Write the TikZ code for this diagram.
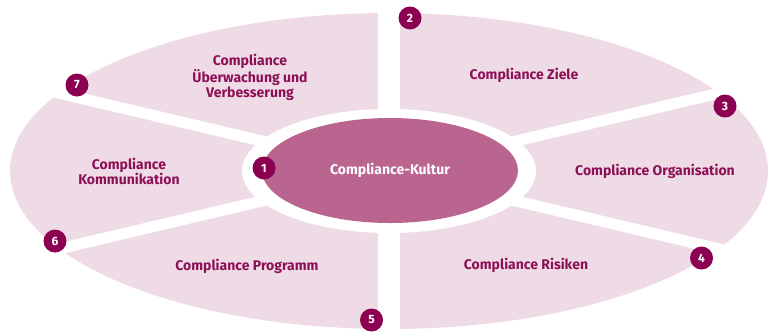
\documentclass[tikz,border=0pt]{standalone}
\usepackage{fontspec}
\setmainfont{Fira Sans}
\usetikzlibrary{shapes.geometric}
\definecolor{segfill}{RGB}{239,219,230}
\definecolor{corefill}{RGB}{185,101,143}
\definecolor{badgecol}{RGB}{139,0,80}
\definecolor{textcol}{RGB}{140,16,86}
\begin{document}
\begin{tikzpicture}[x=1pt,y=-1pt,
  seglabel/.style={text=textcol, font=\bfseries\fontsize{14}{15}\selectfont, align=center, inner sep=0pt},
  badge/.style={circle, fill=badgecol, minimum size=23pt, inner sep=0pt, text=white, font=\bfseries\fontsize{12}{12}\selectfont},
  gapline/.style={draw=white, line width=#1}]
\useasboundingbox (0,0) rectangle (775,333);
\coordinate (c) at (389,171);
% ring of segments
\fill[segfill] (c) ellipse [x radius=379pt, y radius=158pt];
\fill[white] (c) ellipse [x radius=147pt, y radius=62pt];
% separating gaps
\coordinate (g1a) at (-31,270.1);
\coordinate (g1b) at (809,71.9);
\coordinate (g2a) at (-31,71.9);
\coordinate (g2b) at (809,270.1);
\coordinate (g3a) at (389,-10);
\coordinate (g3b) at (389,345);
\draw[gapline=11pt] (g1a) -- (g1b);
\draw[gapline=11pt] (g2a) -- (g2b);
\draw[gapline=22pt] (g3a) -- (g3b);
% core
\node[ellipse, fill=corefill, minimum width=256pt, minimum height=105pt, inner sep=0pt,
      text=white, font=\bfseries\fontsize{14}{15}\selectfont] (kultur) at (390,170.5) {Compliance-Kultur};
% segment labels
\node[seglabel] (ziele) at (524,75) {Compliance Ziele};
\node[seglabel] (orga) at (655,171) {Compliance Organisation};
\node[seglabel] (risiken) at (526,265) {Compliance Risiken};
\node[seglabel] (programm) at (247,266) {Compliance Programm};
\node[seglabel] (kommunikation) at (129,171) {Compliance\\Kommunikation};
\node[seglabel] (ueberwachung) at (250,77) {Compliance\\Überwachung und\\Verbesserung};
% numbered badges
\node[badge] (b1) at (264,168) {1};
\node[badge] (b2) at (410,18) {2};
\node[badge] (b3) at (725,106) {3};
\node[badge] (b4) at (701.5,258) {4};
\node[badge] (b5) at (371.5,320) {5};
\node[badge] (b6) at (55,241) {6};
\node[badge] (b7) at (77,85) {7};
\end{tikzpicture}
\end{document}
